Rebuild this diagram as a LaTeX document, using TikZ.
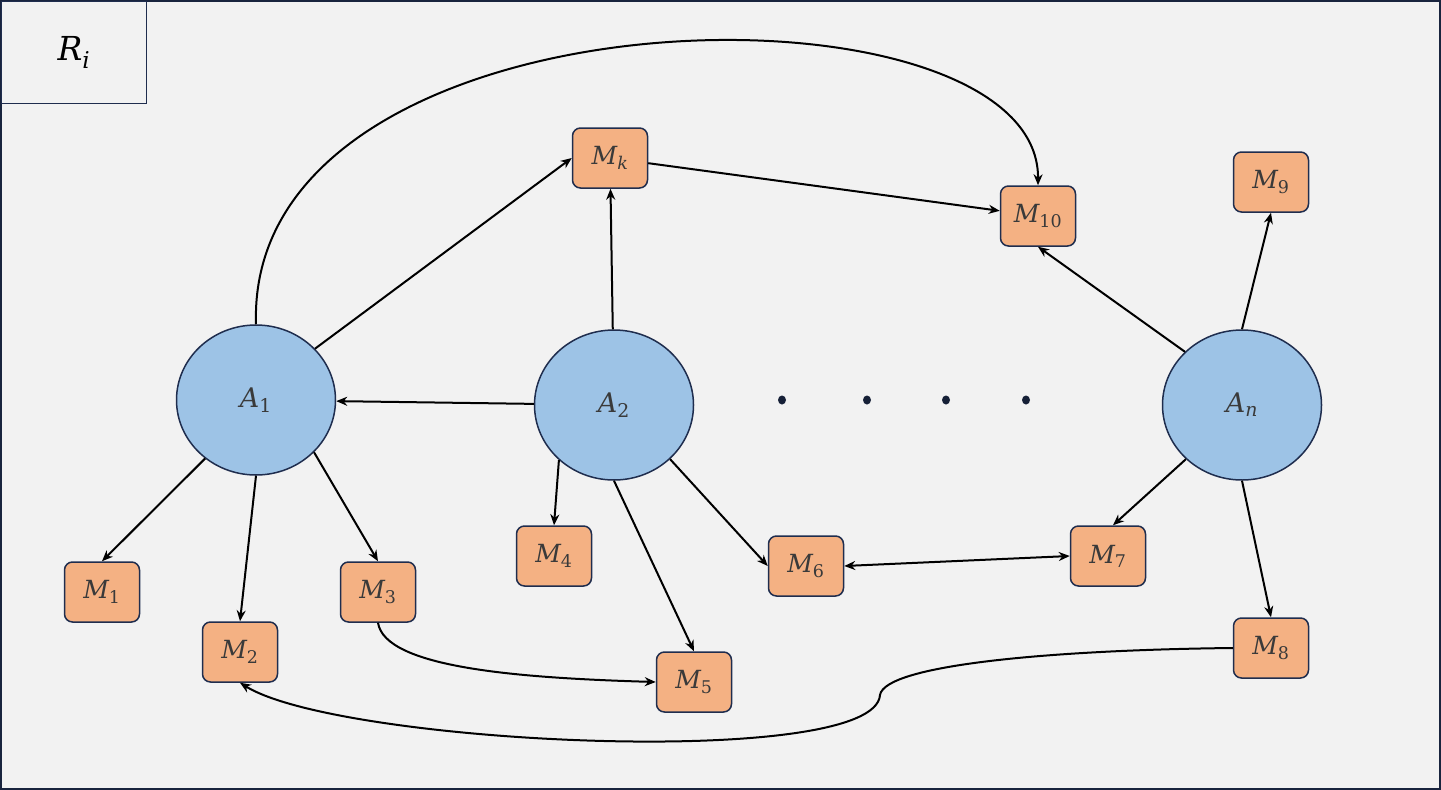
\documentclass[tikz,border=0pt]{standalone}
\usepackage{amsmath}
\usepackage{fontspec}
\setmainfont{DejaVu Serif}
\usetikzlibrary{shapes.geometric,arrows.meta}
\definecolor{bg}{HTML}{F2F2F2}
\definecolor{navy}{HTML}{1F2D4E}
\definecolor{cfill}{HTML}{9DC3E6}
\definecolor{bfill}{HTML}{F4B183}
\definecolor{txt}{HTML}{3A3A3A}
\newcommand\lab[2]{$\textit{#1}_{\text{#2}}$}
\begin{document}
\begin{tikzpicture}[x=1pt,y=-1pt,
  agent/.style={ellipse, draw=navy, line width=1.5pt, fill=cfill, minimum width=159pt, minimum height=150pt, inner sep=0pt, text=txt, font=\fontsize{27}{32}\selectfont},
  mbox/.style={rectangle, rounded corners=8pt, draw=navy, line width=1.5pt, fill=bfill, minimum width=75pt, minimum height=60pt, inner sep=0pt, text=txt, font=\fontsize{25}{30}\selectfont},
  conn/.style={line width=2pt, -{Stealth[length=11pt,width=9pt]}},
  both/.style={line width=2pt, {Stealth[length=11pt,width=9pt]}-{Stealth[length=11pt,width=9pt]}},
  dotmark/.style={fill=navy!70!black},
  ]
\useasboundingbox (0,0) rectangle (1441,790);
\fill[bg] (0,0) rectangle (1441,790);
\draw[navy!80!black, line width=2pt] (1,1) rectangle (1440,789);
% title box
\node[draw=navy, line width=1.5pt, minimum width=145pt, minimum height=102pt, inner sep=0pt, anchor=north west, font=\fontsize{33}{38}\selectfont] (title) at (0.75,0.75) {\lab{R}{\textit{i}}};
% agents
\node[agent] (A1) at (256,400) {\lab{A}{1}};
\node[agent] (A2) at (614,405) {\lab{A}{2}};
\node[agent] (An) at (1242,405) {\lab{A}{\textit{n}}};
% boxes
\node[mbox] (Mk) at (610,158) {\lab{M}{\textit{k}}};
\node[mbox] (M10) at (1038,216) {\lab{M}{10}};
\node[mbox] (M9) at (1271,182) {\lab{M}{9}};
\node[mbox] (M1) at (102,592) {\lab{M}{1}};
\node[mbox] (M2) at (240,652) {\lab{M}{2}};
\node[mbox] (M3) at (378,592) {\lab{M}{3}};
\node[mbox] (M4) at (554,556) {\lab{M}{4}};
\node[mbox] (M5) at (694,682) {\lab{M}{5}};
\node[mbox] (M6) at (806,566) {\lab{M}{6}};
\node[mbox] (M7) at (1108,556) {\lab{M}{7}};
\node[mbox] (M8) at (1271,648) {\lab{M}{8}};
% dots
\foreach \x in {782,867,946,1026} \fill[dotmark] (\x,400) ellipse [x radius=4pt, y radius=4.5pt];
% connectors
\draw[conn] (A1.41) -- (Mk.west);
\draw[conn] (A1.north) .. controls (245,-20) and (1040,-30) .. (M10.north);
\draw[conn] (Mk) -- (M10);
\draw[conn] (A2) -- (Mk);
\draw[conn] (A2) -- (A1);
\draw[conn] (A2.225) -- (M4.north);
\draw[conn] (A2.south) -- (M5.north);
\draw[conn] (A2.316) -- (M6.west);
\draw[both] (M6.east) -- (M7.west);
\draw[conn] (An.137) -- (M10.south);
\draw[conn] (An.north) -- (M9.south);
\draw[conn] (An.224) -- ([xshift=5pt]M7.north);
\draw[conn] (An.south) -- (M8.north);
\draw[conn] (A1.229) -- (M1.north);
\draw[conn] (A1.south) -- (M2.north);
\draw[conn] (A1.318) -- (M3.north);
\draw[conn] (M3.south) .. controls (385,668) and (520,678) .. (M5.west);
\draw[conn] (M8.west) .. controls (1050,650) and (885,665) .. (880,695) .. controls (875,770) and (340,745) .. (M2.south);
\end{tikzpicture}
\end{document}
